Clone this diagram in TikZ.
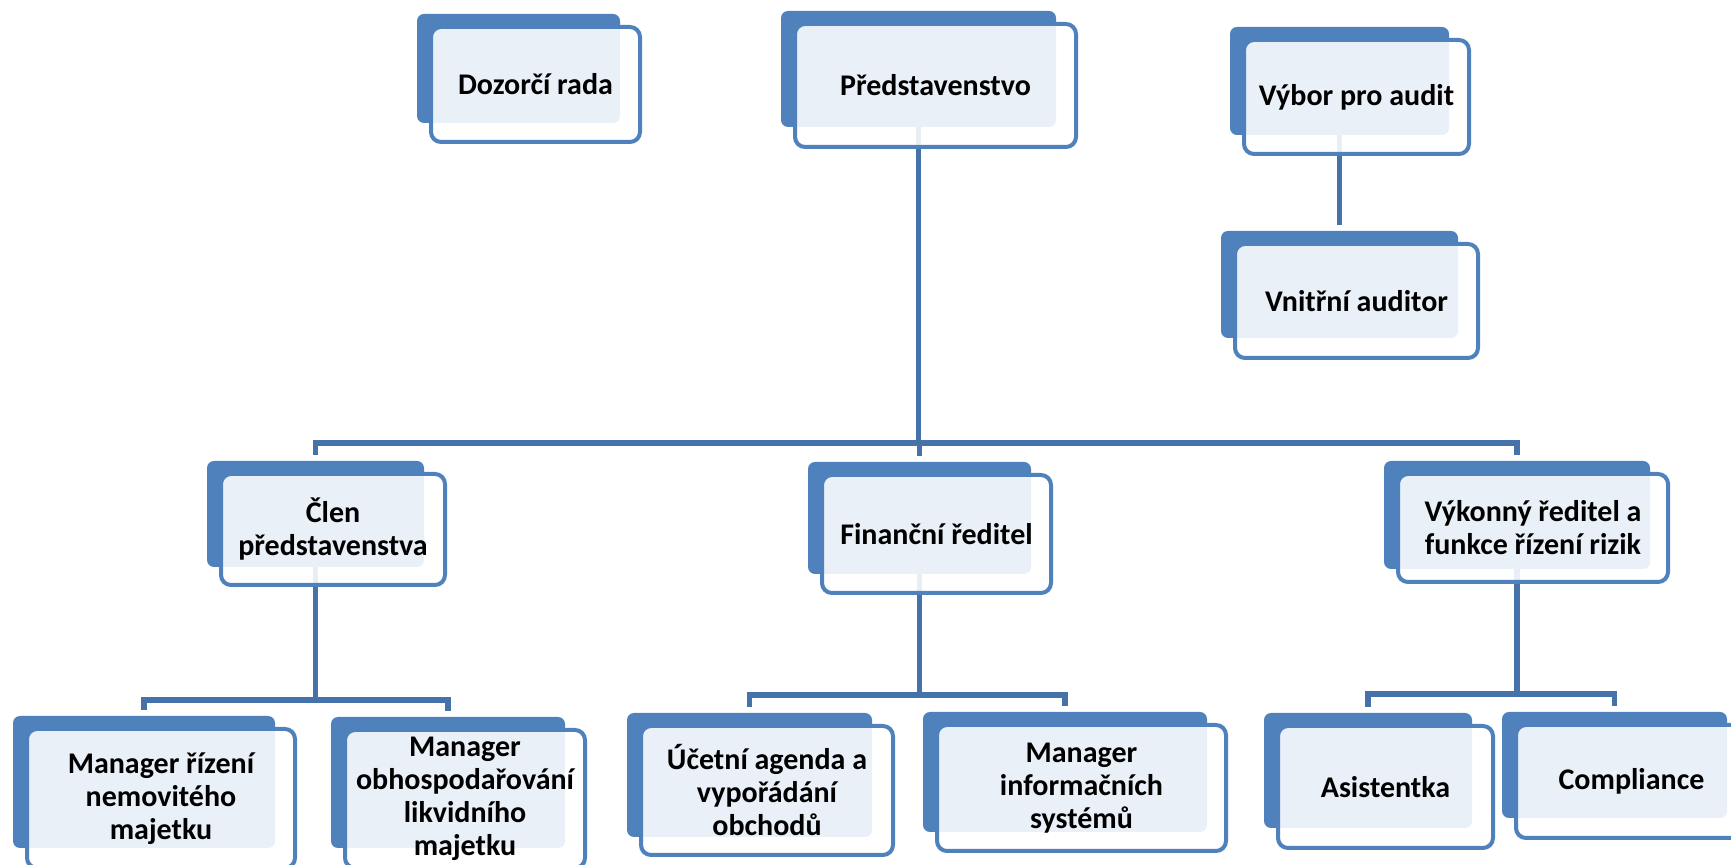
\documentclass[tikz,border=0pt]{standalone}
\usepackage{fontspec}
\setmainfont{Carlito}
\definecolor{boxblue}{HTML}{4F81BD}
\definecolor{linkblue}{HTML}{4672AA}
\pgfdeclarelayer{bg}
\pgfsetlayers{bg,main}
\tikzset{
  backbox/.style={fill=boxblue, rounded corners=3.5pt, inner sep=0pt, outer sep=0pt},
  frontbox/.style={draw=boxblue, line width=2pt, fill=white, fill opacity=0.885, text opacity=1,
    rounded corners=5pt, inner sep=0pt, outer sep=0pt,
    font=\bfseries\fontsize{15}{16.5}\selectfont, align=center},
  link/.style={draw=linkblue, line width=2.6pt}
}
\newcommand\orgbox[8]{%
  \node[backbox, minimum width={(#4-#2)*0.5pt}, minimum height={(#5-#3)*0.5pt}]
    (#1-b) at ({(#2+#4)/2},{(#3+#5)/2}) {};
  \node[frontbox, minimum width={(#6-#2-16)*0.5pt}, minimum height={(#7-#3-15)*0.5pt}]
    (#1) at ({(#2+12+#6)/2},{(#3+11+#7)/2}) {#8};
}
\begin{document}
\begin{tikzpicture}[x=0.5pt, y=-0.5pt]
\useasboundingbox (0,0) rectangle (1731,865);
\clip (0,0) rectangle (1731,865);

\orgbox{dozor}{417}{14}{620}{123}{642}{144}{Dozorčí rada}
\orgbox{pred}{781}{11}{1056}{127}{1078}{149}{Představenstvo}
\orgbox{vybor}{1230}{27}{1449}{135}{1471}{156}{Výbor pro audit}
\orgbox{vnitr}{1221}{231}{1458}{338}{1480}{360}{Vnitřní auditor}
\orgbox{clen}{207}{461}{424}{567}{447}{587}{Člen\\představenstva}
\orgbox{fin}{808}{462}{1031}{574}{1053}{595}{Finanční ředitel}
\orgbox{vyk}{1384}{461}{1650}{569}{1670}{584}{Výkonný ředitel a\\funkce řízení rizik}
\orgbox{mnem}{13}{716}{275}{848}{297}{870}{Manager řízení\\nemovitého\\majetku}
\orgbox{mlik}{331}{717}{565}{848}{587}{870}{Manager\\obhospodařování\\likvidního\\majetku}
\orgbox{ucet}{627}{713}{872}{837}{895}{857}{Účetní agenda a\\vypořádání\\obchodů}
\orgbox{minf}{923}{712}{1207}{832}{1228}{853}{Manager\\informačních\\systémů}
\orgbox{asis}{1264}{713}{1472}{828}{1495}{850}{Asistentka}
\orgbox{comp}{1502}{712}{1727}{818}{1749}{840}{Compliance}

\coordinate (bus1) at (0,443);
\coordinate (bus2) at (0,700);
\coordinate (bus3) at (0,695);
\coordinate (bus4) at (0,694);

\begin{pgfonlayer}{bg}
  \fill[white] (0,0) rectangle (1731,865);
  \draw[link] (pred-b.south) -- (pred-b.south |- bus1);
  \draw[link, shorten <=3pt, shorten >=3pt] (clen-b.north) -- (clen-b.north |- bus1)
    -- (vyk-b.north |- bus1) -- (vyk-b.north);
  \draw[link, shorten >=3pt] (fin-b.north |- bus1) -- (fin-b.north);

  \draw[link] (clen-b.south) -- (clen-b.south |- bus2);
  \draw[link, shorten <=3pt, shorten >=3pt] (mnem-b.north) -- (mnem-b.north |- bus2)
    -- (mlik-b.north |- bus2) -- (mlik-b.north);

  \draw[link] (fin-b.south) -- (fin-b.south |- bus3);
  \draw[link, shorten <=3pt, shorten >=3pt] (ucet-b.north) -- (ucet-b.north |- bus3)
    -- (minf-b.north |- bus3) -- (minf-b.north);

  \draw[link] (vyk-b.south) -- (vyk-b.south |- bus4);
  \draw[link, shorten <=3pt, shorten >=3pt] (asis-b.north) -- (asis-b.north |- bus4)
    -- (comp-b.north |- bus4) -- (comp-b.north);

  \draw[link, shorten >=3pt] (vybor-b.south) -- (vnitr-b.north);
\end{pgfonlayer}
\end{tikzpicture}
\end{document}
